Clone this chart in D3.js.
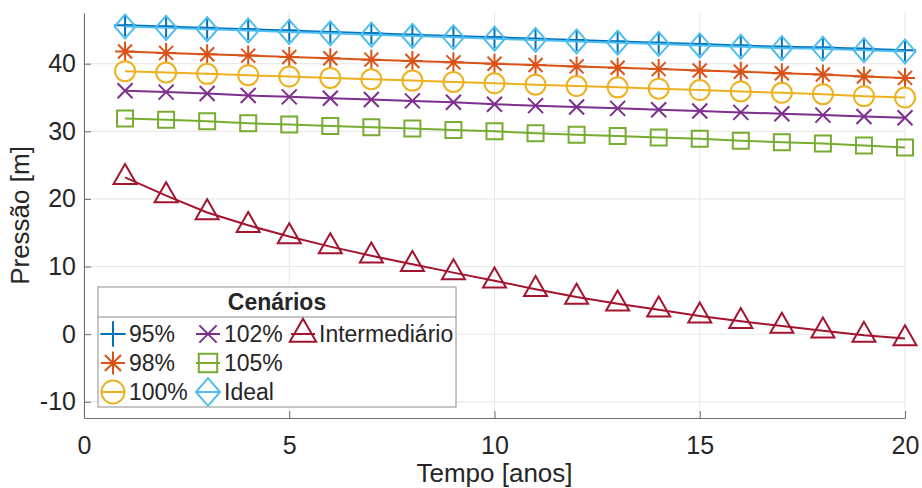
<!DOCTYPE html>
<html>
<head>
  <meta charset="UTF-8">
  <title>Pressão x Tempo</title>
  <script src="https://d3js.org/d3.v7.min.js"></script>
  <style>
    body { margin: 0; background: #fff; }
    text { font-family: "Liberation Sans", Arial, sans-serif; fill: #262626; }
  </style>
</head>
<body>
  <script>
    // data
    var anos = [1, 2, 3, 4, 5, 6, 7, 8, 9, 10, 11, 12, 13, 14, 15, 16, 17, 18, 19, 20];
    var p95 = [45.7, 45.5, 45.3, 45.1, 44.9, 44.7, 44.5, 44.3, 44.1, 43.9, 43.7, 43.5, 43.3, 43.1, 42.9, 42.7, 42.5, 42.4, 42.2, 42.0];
    var p98 = [41.8, 41.6, 41.4, 41.2, 41.0, 40.8, 40.6, 40.4, 40.2, 40.0, 39.8, 39.6, 39.4, 39.2, 39.0, 38.8, 38.6, 38.4, 38.1, 37.9];
    var p100 = [38.9, 38.7, 38.5, 38.3, 38.1, 37.9, 37.7, 37.5, 37.3, 37.1, 36.9, 36.7, 36.5, 36.3, 36.1, 35.9, 35.7, 35.5, 35.2, 35.0];
    var p102 = [36.0, 35.8, 35.6, 35.3, 35.1, 34.9, 34.7, 34.5, 34.3, 34.0, 33.8, 33.6, 33.4, 33.2, 33.0, 32.8, 32.6, 32.4, 32.2, 32.0];
    var p105 = [31.9, 31.7, 31.5, 31.2, 31.0, 30.8, 30.6, 30.4, 30.2, 30.0, 29.7, 29.5, 29.3, 29.1, 28.9, 28.6, 28.4, 28.2, 27.9, 27.6];
    var ideal = [45.5, 45.3, 45.1, 44.9, 44.7, 44.5, 44.3, 44.1, 43.9, 43.7, 43.5, 43.3, 43.1, 42.9, 42.7, 42.5, 42.3, 42.2, 42.0, 41.8];
    var intermediario = [23.2, 20.5, 18.0, 16.1, 14.45, 12.95, 11.6, 10.35, 9.1, 7.9, 6.65, 5.5, 4.5, 3.6, 2.7, 1.9, 1.2, 0.5, -0.15, -0.65];

    var nomes = ["95%", "98%", "100%", "102%", "105%", "Ideal", "Intermediário"];
    var xTicks = [0, 5, 10, 15, 20];
    var yTicks = [-10, 0, 10, 20, 30, 40];

    var cores = ["#0072BD", "#D95319", "#EDB120", "#7E2F8E", "#77AC30", "#4DBEEE", "#A2142F"];
    var marcadores = ["plus", "star", "circle", "x", "square", "diamond", "triangle"];
    var series = [p95, p98, p100, p102, p105, ideal, intermediario];

    var margin = { top: 13, right: 17, bottom: 70, left: 84 };
    var width = 922 - margin.left - margin.right;
    var height = 488 - margin.top - margin.bottom;

    var svg = d3.select("body").append("svg")
      .attr("width", 922)
      .attr("height", 488)
      .append("g")
      .attr("transform", "translate(" + margin.left + "," + margin.top + ")");

    var xScale = d3.scaleLinear().domain([0, 20]).range([0, width]);
    var yScale = d3.scaleLinear().domain([-12.4, 47.5]).range([height, 0]);

    // grid
    svg.append("g").selectAll("line").data(xTicks).enter().append("line")
      .attr("x1", function (d) { return xScale(d); })
      .attr("x2", function (d) { return xScale(d); })
      .attr("y1", 0).attr("y2", height)
      .attr("stroke", "#e6e6e6").attr("stroke-width", 1);
    svg.append("g").selectAll("line").data(yTicks).enter().append("line")
      .attr("y1", function (d) { return yScale(d); })
      .attr("y2", function (d) { return yScale(d); })
      .attr("x1", 0).attr("x2", width)
      .attr("stroke", "#e6e6e6").attr("stroke-width", 1);

    // axes (ticks inside, like matlab)
    var xAxis = d3.axisBottom(xScale).tickValues(xTicks).tickSizeInner(-7).tickSizeOuter(0).tickPadding(18);
    var yAxis = d3.axisLeft(yScale).tickValues(yTicks).tickSizeInner(-7).tickSizeOuter(0).tickPadding(8)
      .tickFormat(function (d) { return d < 0 ? "-" + Math.abs(d) : d; });

    var gx = svg.append("g").attr("transform", "translate(0," + height + ")").call(xAxis);
    var gy = svg.append("g").call(yAxis);
    [gx, gy].forEach(function (g) {
      g.select(".domain").attr("stroke", "#6e6e6e");
      g.selectAll(".tick line").attr("stroke", "#6e6e6e");
      g.selectAll("text").style("font-size", "25px").attr("fill", "#262626");
    });

    svg.append("text")
      .attr("x", width / 2).attr("y", height + 64)
      .attr("text-anchor", "middle").style("font-size", "26px")
      .text("Tempo [anos]");
    svg.append("text")
      .attr("transform", "translate(" + (-55) + "," + (height / 2) + ") rotate(-90)")
      .attr("text-anchor", "middle").style("font-size", "26px")
      .text("Pressão [m]");

    // marker paths
    function marker(tipo, s) {
      var r;
      if (tipo == "plus") { r = 11 * s; return "M" + (-r) + ",0H" + r + "M0," + (-r) + "V" + r; }
      if (tipo == "star") {
        r = 10 * s; var q = 7 * s;
        return "M" + (-r) + ",0H" + r + "M0," + (-r) + "V" + r +
          "M" + (-q) + "," + (-q) + "L" + q + "," + q + "M" + (-q) + "," + q + "L" + q + "," + (-q);
      }
      if (tipo == "circle") { r = 10 * s; return "M" + r + ",0A" + r + "," + r + " 0 1,1 " + (-r) + ",0A" + r + "," + r + " 0 1,1 " + r + ",0Z"; }
      if (tipo == "x") { r = 7.5 * s; return "M" + (-r) + "," + (-r) + "L" + r + "," + r + "M" + (-r) + "," + r + "L" + r + "," + (-r); }
      if (tipo == "square") { r = 8 * s; return "M" + (-r) + "," + (-r) + "H" + r + "V" + r + "H" + (-r) + "Z"; }
      if (tipo == "diamond") { var w = 10.5 * s, h = 12 * s; return "M0," + (-h) + "L" + w + ",0L0," + h + "L" + (-w) + ",0Z"; }
      if (tipo == "triangle") { var b = 11.5 * s; return "M0," + (-13.3 * s) + "L" + b + "," + (6.7 * s) + "L" + (-b) + "," + (6.7 * s) + "Z"; }
    }

    var linha = d3.line()
      .x(function (d, i) { return xScale(anos[i]); })
      .y(function (d) { return yScale(d); });

    series.forEach(function (valores, k) {
      var g = svg.append("g");
      g.append("path")
        .attr("d", linha(valores))
        .attr("fill", "none")
        .attr("stroke", cores[k])
        .attr("stroke-width", 2);
      g.selectAll(".m").data(valores).enter().append("path")
        .attr("transform", function (d, i) { return "translate(" + xScale(anos[i]) + "," + yScale(d) + ")"; })
        .attr("d", marker(marcadores[k], 1))
        .attr("fill", "none")
        .attr("stroke", cores[k])
        .attr("stroke-width", 2);
    });

    // legend
    var leg = svg.append("g").attr("transform", "translate(" + (98 - margin.left) + "," + (287 - margin.top) + ")");
    leg.append("rect").attr("x", 0).attr("y", 0).attr("width", 358).attr("height", 120)
      .attr("fill", "#fff").attr("stroke", "#8c8c8c").attr("stroke-width", 1);
    leg.append("line").attr("x1", 0).attr("x2", 358).attr("y1", 30).attr("y2", 30)
      .attr("stroke", "#8c8c8c").attr("stroke-width", 1);
    leg.append("text").attr("x", 179).attr("y", 23).attr("text-anchor", "middle")
      .style("font-size", "23px").style("font-weight", "bold").text("Cenários");

    var colX = [15, 110, 205];
    var rowY = [47, 76, 105];
    nomes.forEach(function (nome, k) {
      var c = Math.floor(k / 3), r = k % 3;
      var it = leg.append("g").attr("transform", "translate(" + colX[c] + "," + rowY[r] + ")");
      it.append("line").attr("x1", -12).attr("x2", 12).attr("y1", 0).attr("y2", 0)
        .attr("stroke", cores[k]).attr("stroke-width", 2);
      it.append("path").attr("d", marker(marcadores[k], 1.15))
        .attr("fill", "none").attr("stroke", cores[k]).attr("stroke-width", 2);
      it.append("text").attr("x", 16).attr("y", 8).style("font-size", "23px").text(nome);
    });
  </script>
</body>
</html>
